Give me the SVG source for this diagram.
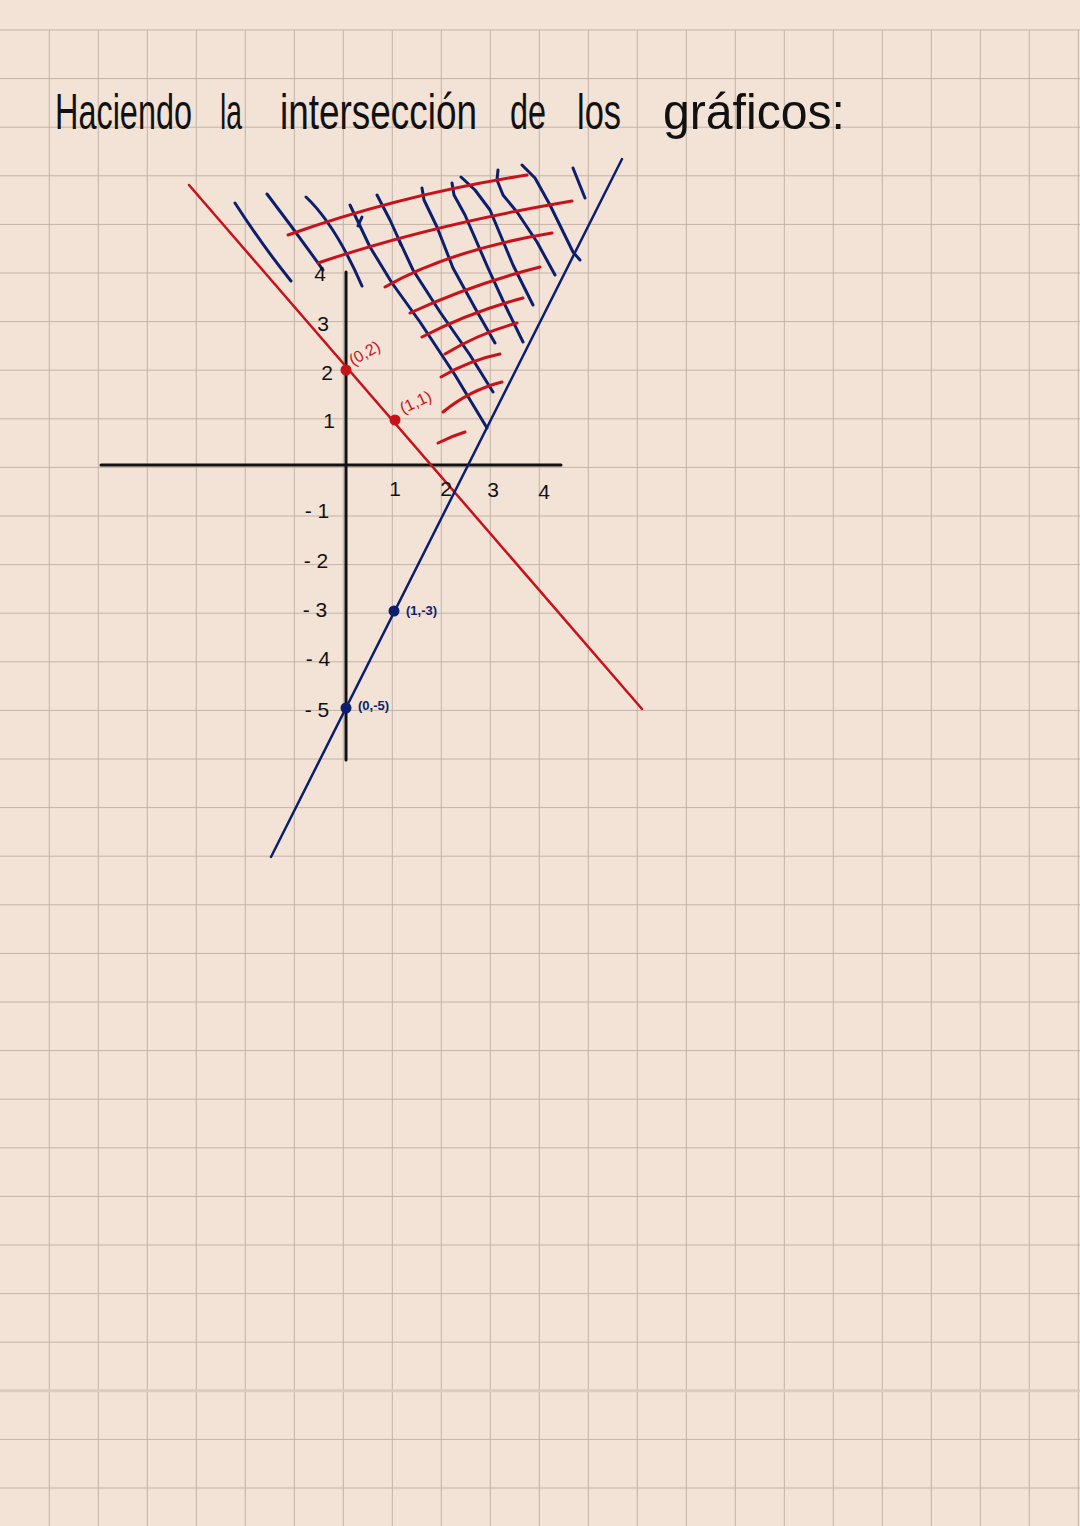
<svg xmlns="http://www.w3.org/2000/svg" width="1080" height="1526" viewBox="0 0 1080 1526">
<style>
.grid{stroke:#c4b2a6;stroke-width:1;fill:none}
.red{stroke:#c8121b;fill:none;stroke-linecap:round;stroke-linejoin:round}
.blue{stroke:#0c1f6e;fill:none;stroke-linecap:round;stroke-linejoin:round}
.axis{stroke:#111;stroke-width:3;fill:none;stroke-linecap:round}
.hand{font-family:"Liberation Sans","DejaVu Sans",sans-serif;font-size:34px;fill:#111}
.num{font-family:"Liberation Sans","DejaVu Sans",sans-serif;font-size:21px;fill:#111;text-anchor:middle}
.rl{font-family:"Liberation Sans","DejaVu Sans",sans-serif;font-size:16px;fill:#c8121b}
.bl{font-family:"Liberation Sans","DejaVu Sans",sans-serif;font-size:13px;font-weight:bold;fill:#0c1f6e}
</style>
<rect width="1080" height="1526" fill="#f3e2d6"/>
<g id="grid">
<path class="grid" d="M49.3,30V1526M98.3,30V1526M147.3,30V1526M196.3,30V1526M245.3,30V1526M294.3,30V1526M343.3,30V1526M392.3,30V1526M441.3,30V1526M490.3,30V1526M539.3,30V1526M588.3,30V1526M637.3,30V1526M686.3,30V1526M735.3,30V1526M784.3,30V1526M833.3,30V1526M882.3,30V1526M931.3,30V1526M980.3,30V1526M1029.3,30V1526M1078.3,30V1526"/>
<path class="grid" d="M0,30H1080M0,78.6H1080M0,127.2H1080M0,175.8H1080M0,224.4H1080M0,273H1080M0,321.6H1080M0,370.2H1080M0,418.8H1080M0,467.4H1080M0,516H1080M0,564.6H1080M0,613.2H1080M0,661.8H1080M0,710.4H1080M0,759H1080M0,807.6H1080M0,856.2H1080M0,904.8H1080M0,953.4H1080M0,1002H1080M0,1050.6H1080M0,1099.2H1080M0,1147.8H1080M0,1196.4H1080M0,1245H1080M0,1293.6H1080M0,1342.2H1080M0,1439.4H1080M0,1488H1080"/>
<path d="M0,1390.8H1080" stroke="#dccbc0" stroke-width="3"/>
</g>
<g id="title" transform="translate(0,129) scale(1,1.45)">
<text class="hand" x="55" y="0" textLength="137" lengthAdjust="spacingAndGlyphs">Haciendo</text>
<text class="hand" x="220" y="0" textLength="22" lengthAdjust="spacingAndGlyphs">la</text>
<text class="hand" x="280" y="0" textLength="197" lengthAdjust="spacingAndGlyphs">intersección</text>
<text class="hand" x="510" y="0" textLength="36" lengthAdjust="spacingAndGlyphs">de</text>
<text class="hand" x="577" y="0" textLength="44" lengthAdjust="spacingAndGlyphs">los</text>
<text class="hand" x="663" y="0" textLength="182" lengthAdjust="spacingAndGlyphs">gráficos:</text>
</g>
<g id="axes">
<line class="axis" x1="101" y1="465" x2="561" y2="465"/>
<line class="axis" x1="346" y1="272" x2="346" y2="760"/>
</g>
<g id="hatch-blue" class="blue" stroke-width="3">
<path d="M235,203Q262,245 291,281"/>
<path d="M267,194Q296,232 323,270"/>
<path d="M306,197C322,212 342,240 362,286"/>
<polyline points="350,205 370,247 392,283 420,322 455,375 487,428"/>
<path d="M362,217L358,226"/>
<polyline points="377,195 390,220 400,242 413,270 440,312 470,355 493,392"/>
<path d="M398,238L401,245"/>
<polyline points="422,188 424,200 437,227 453,268 475,308 495,343"/>
<polyline points="452,183 454,195 465,215 488,268 505,305 523,342"/>
<polyline points="461,177 475,190 490,210 513,265 533,305"/>
<polyline points="498,170 497,180 503,195 517,212 537,242 555,275"/>
<polyline points="522,165 535,178 550,205 573,252 580,260"/>
<path d="M573,168L585,198"/>
</g>
<g id="hatch-red" class="red" stroke-width="3">
<path d="M288,235Q400,195 527,175"/>
<path d="M318,263Q430,225 572,201"/>
<path d="M385,287Q450,250 552,233"/>
<path d="M410,313Q470,285 540,267"/>
<path d="M422,337Q470,312 523,298"/>
<path d="M445,354Q480,333 517,323"/>
<path d="M441,377Q470,360 500,354"/>
<path d="M443,412Q470,390 502,382"/>
<path d="M438,443Q452,436 465,432"/>
</g>
<g id="connectors">
<line class="red" stroke-width="2.5" x1="189" y1="185" x2="642" y2="709"/>
<line class="blue" stroke-width="2.5" x1="271" y1="857" x2="622" y2="159"/>
</g>
<g id="point-0-2"><circle cx="346" cy="370" r="5.5" fill="#c8121b"/><text class="rl" transform="translate(353,366) rotate(-30)">(0,2)</text></g>
<g id="point-1-1"><circle cx="395" cy="420" r="5.5" fill="#c8121b"/><text class="rl" transform="translate(403,414) rotate(-25)">(1,1)</text></g>
<g id="point-1-m3"><circle cx="394" cy="611" r="5.5" fill="#0c1f6e"/><text class="bl" x="406" y="615">(1,-3)</text></g>
<g id="point-0-m5"><circle cx="346" cy="708" r="5.5" fill="#0c1f6e"/><text class="bl" x="358" y="710">(0,-5)</text></g>
<g id="y-labels">
<text class="num" x="320" y="281">4</text>
<text class="num" x="323" y="331">3</text>
<text class="num" x="327" y="380">2</text>
<text class="num" x="329" y="428">1</text>
<text class="num" x="317" y="518">- 1</text>
<text class="num" x="316" y="568">- 2</text>
<text class="num" x="315" y="617">- 3</text>
<text class="num" x="318" y="666">- 4</text>
<text class="num" x="317" y="717" font-size="24">- 5</text>
</g>
<g id="x-labels">
<text class="num" x="395" y="496">1</text>
<text class="num" x="446" y="496">2</text>
<text class="num" x="493" y="497">3</text>
<text class="num" x="544" y="499">4</text>
</g>
</svg>
